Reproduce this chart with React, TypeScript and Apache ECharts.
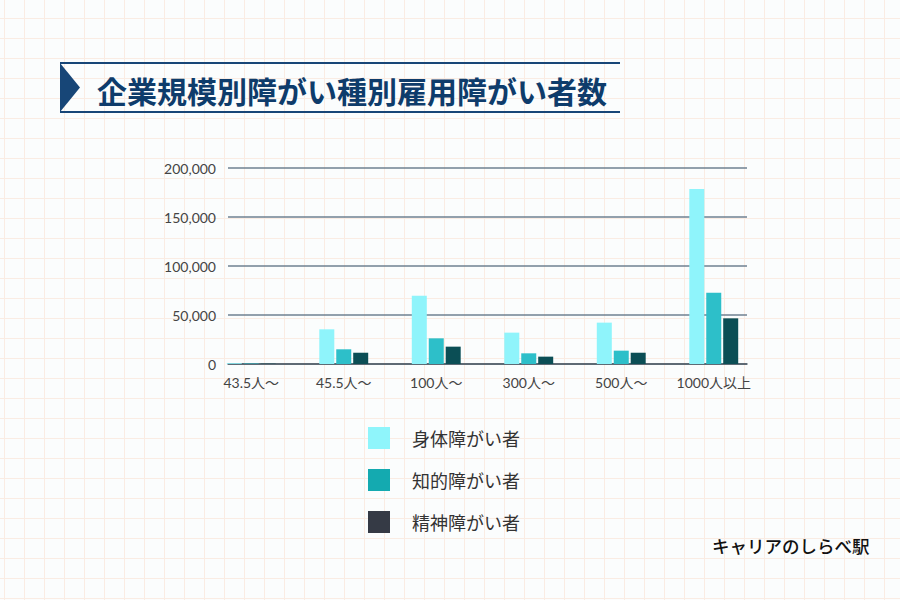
import React, { useEffect, useRef } from "react";
import * as echarts from "echarts";

const categories = ["43.5人〜", "45.5人〜", "100人〜", "300人〜", "500人〜", "1000人以上"];
const seriesNames = ["身体障がい者", "知的障がい者", "精神障がい者"];
const physical = [800, 35400, 69700, 32000, 42200, 178600];
const intellectual = [500, 15000, 26200, 10900, 13600, 72700];
const mental = [300, 11500, 17700, 7500, 11500, 46600];
const yTicks = [0, 50000, 100000, 150000, 200000];
const barColors = ["#8ff4fb", "#2dbfc9", "#0b4e55"];
const legendColors = ["#8ff5fb", "#14aab0", "#353a45"];
const titleText = "企業規模別障がい種別雇用障がい者数";
const brandText = "キャリアのしらべ駅";

export default function App() {
  const ref = useRef<HTMLDivElement>(null);
  useEffect(() => {
    document.body.style.margin = "0";
    if (!ref.current) return;
    const chart = echarts.init(ref.current, null, { renderer: "svg" });
    const font = "Lato, 'Noto Sans CJK JP', sans-serif";
    const values = [physical, intellectual, mental];
    chart.setOption({
      animation: false,
      backgroundColor: "transparent",
      grid: [
        { left: 228, top: 168, width: 519, height: 196 },
        { left: 205, top: 168, width: 555, height: 196 },
      ],
      xAxis: [
        {
          gridIndex: 0,
          type: "value",
          min: 0,
          max: 1,
          axisLine: { show: true, onZero: false, lineStyle: { color: "#4d5862", width: 1.5 } },
          axisTick: { show: false },
          axisLabel: { show: false },
          splitLine: { show: false },
        },
        {
          gridIndex: 1,
          type: "category",
          data: categories,
          axisLine: { show: false },
          axisTick: { show: false },
          axisLabel: { color: "#444", fontSize: 14, fontFamily: font, margin: 11, interval: 0 },
          splitLine: { show: false },
        },
      ],
      yAxis: [
        {
          gridIndex: 0,
          type: "value",
          min: yTicks[0],
          max: yTicks[yTicks.length - 1],
          interval: 50000,
          axisLine: { show: false },
          axisTick: { show: false },
          axisLabel: {
            color: "#444",
            fontSize: 14,
            fontFamily: font,
            margin: 12,
            formatter: (v: number) => v.toLocaleString("en-US"),
          },
          splitLine: { lineStyle: { color: "#6f8191", width: 1.5 } },
        },
        {
          gridIndex: 1,
          type: "value",
          min: yTicks[0],
          max: yTicks[yTicks.length - 1],
          show: false,
          splitLine: { show: false },
        },
      ],
      legend: {
        orient: "vertical",
        left: 368,
        top: 427,
        padding: 0,
        itemWidth: 22,
        itemHeight: 22,
        itemGap: 20,
        icon: "rect",
        textStyle: {
          fontSize: 18,
          color: "#333",
          fontFamily: "'Noto Sans CJK JP', sans-serif",
          padding: [0, 0, 0, 17],
        },
        data: seriesNames.map((n, i) => ({ name: n, itemStyle: { color: legendColors[i] } })),
      },
      series: seriesNames.map((n, i) => ({
        name: n,
        type: "bar",
        xAxisIndex: 1,
        yAxisIndex: 1,
        data: values[i],
        barWidth: 15,
        barGap: "13%",
        itemStyle: { color: barColors[i] },
      })),
      graphic: [
        {
          type: "line",
          shape: { x1: 60, y1: 63, x2: 620, y2: 63 },
          style: { stroke: "#174677", lineWidth: 2 },
        },
        {
          type: "line",
          shape: { x1: 60, y1: 112, x2: 620, y2: 112 },
          style: { stroke: "#174677", lineWidth: 2 },
        },
        {
          type: "polygon",
          shape: { points: [[60, 63], [80, 87.5], [60, 112]] },
          style: { fill: "#174677" },
        },
        {
          type: "text",
          x: 97,
          y: 90,
          style: {
            text: titleText,
            font: "bold 30px 'Noto Sans CJK JP', sans-serif",
            fill: "#0e3c6b",
            verticalAlign: "middle",
          },
        },
        {
          type: "text",
          x: 712,
          y: 545,
          style: {
            text: brandText,
            font: "500 17.5px 'Noto Sans CJK JP', sans-serif",
            fill: "#111",
            verticalAlign: "middle",
          },
        },
      ],
    });
    return () => chart.dispose();
  }, []);
  const bg = {
    width: 900,
    height: 600,
    backgroundColor: "#fbfdfd",
    backgroundImage:
      "linear-gradient(to right, #faece3 1px, transparent 1px), linear-gradient(to bottom, #faece3 1px, transparent 1px)",
    backgroundSize: "20px 20px",
    backgroundPosition: "4px 18px",
  } as React.CSSProperties;
  return <div ref={ref} style={bg} />;
}
